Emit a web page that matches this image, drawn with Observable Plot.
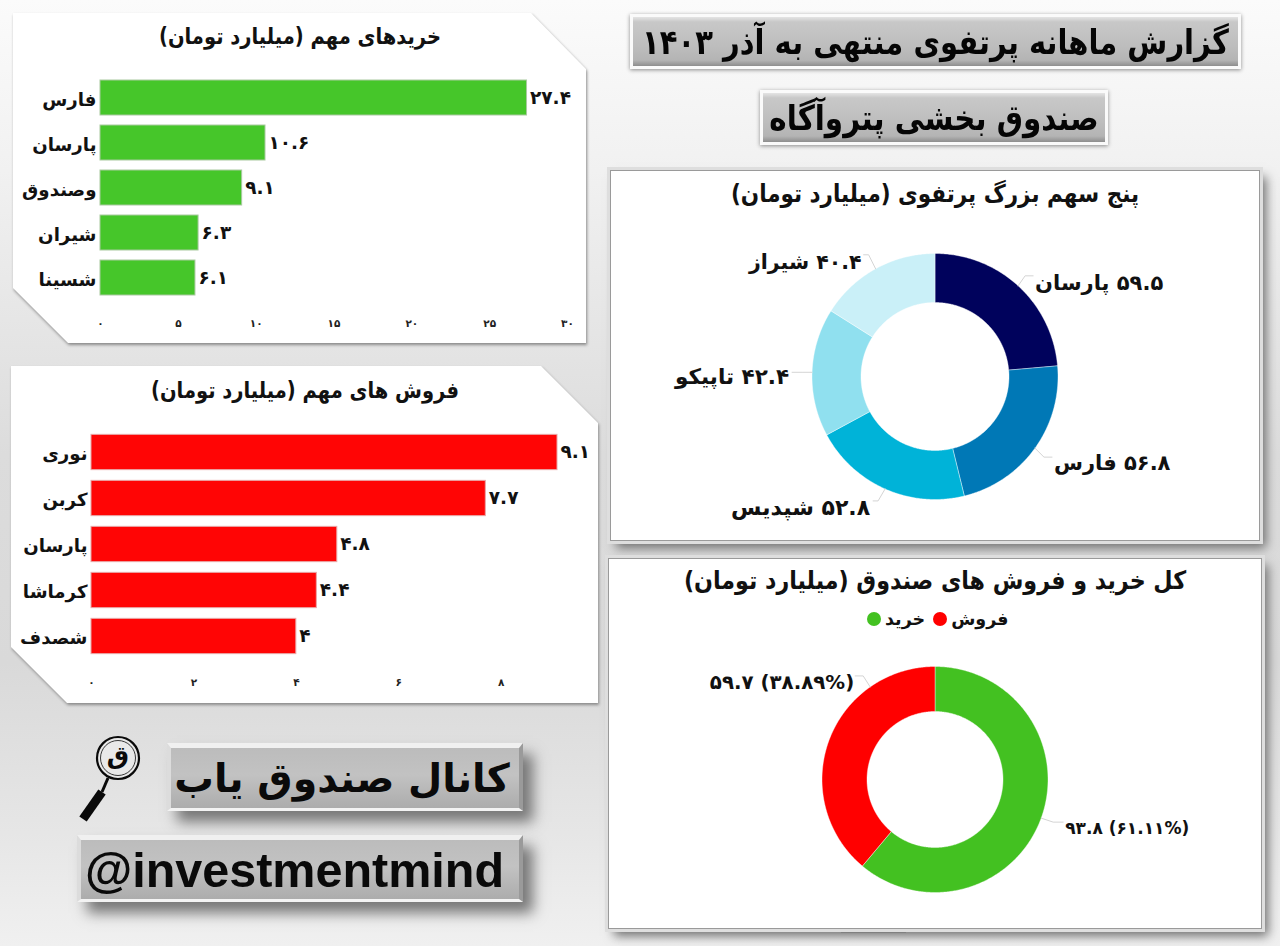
<!DOCTYPE html>
<html lang="fa">
<head>
<meta charset="utf-8">
<script src="https://cdn.jsdelivr.net/npm/d3@7"></script>
<script src="https://cdn.jsdelivr.net/npm/@observablehq/plot@0.6"></script>
<style>
html,body{margin:0;padding:0}
body{position:relative;width:1280px;height:946px;overflow:hidden;font-family:"DejaVu Sans",sans-serif;font-weight:700;color:#111;
 background:linear-gradient(180deg,#fbfbfb 0%,#f1f1f1 18%,#dcdcdc 48%,#d9d9d9 70%,#e6e6e6 88%,#f0f0f0 100%)}
.abs{position:absolute}
.title{position:absolute;white-space:nowrap;transform:translate(-50%,-50%) scaleY(1.14);direction:rtl}
.shape{position:absolute;filter:drop-shadow(1px 2px 1.5px #8a8a8a)}
.shape>div{position:absolute;inset:0;background:#fff}
.frame{position:absolute;background:#fff;border:1px solid #9a9a9a;box-sizing:border-box;box-shadow:0 0 0 3px #dedede,6px 7px 10px #6f6f6f}
.head{position:absolute;box-sizing:border-box;border:3px solid #fafafa;box-shadow:0 1px 4px #8a8a8a;
 background:linear-gradient(180deg,#e4e4e4 0%,#c8c8c8 10%,#bdbdbd 60%,#b4b4b4 88%,#8e8e8e 100%);
 display:flex;align-items:center;justify-content:center;white-space:nowrap;direction:rtl;color:#050505}
.head span{display:inline-block;transform:scaleY(1.18)}
.bevel{position:absolute;box-sizing:border-box;display:flex;align-items:center;justify-content:center;white-space:nowrap;
 background:linear-gradient(180deg,#bcbcbc 0%,#c2c2c2 45%,#acacac 100%);
 border-style:solid;border-width:5px 4px 3px 4px;border-color:#f0f0f0 #9a9a9a #f3f3f3 #dcdcdc;
 box-shadow:10px 11px 13px #777;color:#0a0a0a}
svg{font-family:"DejaVu Sans",sans-serif}
</style>
</head>
<body>
<script>
// ---------- Data ----------
const buyNames  = ["فارس","پارسان","وصندوق","شیران","شسینا"];
const buyValues = [27.4,10.6,9.1,6.3,6.1];
const buyTicks  = [0,5,10,15,20,25,30];

const sellNames  = ["نوری","کربن","پارسان","کرماشا","شصدف"];
const sellValues = [9.1,7.7,4.8,4.4,4];
const sellTicks  = [0,2,4,6,8];

const topNames  = ["پارسان","فارس","شپدیس","تاپیکو","شیراز"];
const topValues = [59.5,56.8,52.8,42.4,40.4];
const topColors = ["#00025c","#0078b6","#00b3d8","#90e0ef","#caf0f8"];

const flowNames  = ["خرید","فروش"];
const flowValues = [93.8,59.7];
const flowShares = [61.11,38.89];
const flowColors = ["#43c121","#ff0000"];

// ---------- Helpers ----------
const RLM = "\u200F";
const fa = v => String(v).replace(/\d/g, d => "۰۱۲۳۴۵۶۷۸۹"[d]);
const FONT = "DejaVu Sans";
const el = (cls, css, html, parent = document.body) => {
  const d = document.createElement("div");
  d.className = cls; d.style.cssText = css; if (html != null) d.innerHTML = html;
  parent.appendChild(d); return d;
};
const place = (node, left, top) => {
  node.style.position = "absolute"; node.style.left = left + "px"; node.style.top = top + "px";
  document.body.appendChild(node);
};

function cutPanel(l, t, r, b, tr, bl) {
  const w = r - l, h = b - t;
  const s = el("shape", `left:${l}px;top:${t}px;width:${w}px;height:${h}px`);
  el("", `clip-path:polygon(0 0,${w - tr[0]}px 0,100% ${tr[1]}px,100% 100%,${bl[0]}px 100%,0 ${h - bl[1]}px)`, "", s);
}

function barChart({left, top, width, height, names, values, ticks, color, edge, domain, margins, step}) {
  const rows = names.map((name, i) => ({name, value: values[i]}));
  const plot = Plot.plot({
    width, height, ...margins,
    style: {background: "transparent", overflow: "visible", fontFamily: FONT},
    x: {domain, axis: null},
    y: {domain: names, padding: 0, axis: null},
    marks: [
      Plot.barX(rows, {x: "value", y: "name", fill: color, stroke: edge, strokeWidth: 1,
        insetTop: step.inset, insetBottom: step.inset}),
      Plot.text(rows, {x: "value", y: "name", text: d => fa(d.value), textAnchor: "start", dx: 3,
        fontSize: 18.5, fontWeight: 700, fill: "#111", fontFamily: FONT}),
      Plot.axisY({tickSize: 0, tickPadding: 4, fontSize: 18.2, fontWeight: 700, label: null, dy: 2,
        fill: "#111", fontFamily: FONT, tickFormat: d => d}),
      Plot.axisX({ticks, tickSize: 0, tickPadding: step.tickPad, fontSize: 10.5, fontWeight: 700, label: null,
        fill: "#222", fontFamily: FONT, tickFormat: fa})
    ]
  });
  place(plot, left, top);
}

function donut({left, top, width, height, cx, cy, R, r, names, values, colors, labels, layout}) {
  const total = d3.sum(values);
  const pts = [], slices = [];
  let acc = 0;
  names.forEach((name, i) => {
    const a0 = acc / total * 2 * Math.PI;
    acc += values[i];
    const a1 = acc / total * 2 * Math.PI;
    const n = Math.ceil((a1 - a0) / 0.01);
    const ring = [];
    for (let k = 0; k <= n; k++) { const a = a0 + (a1 - a0) * k / n; ring.push([R * Math.sin(a), -R * Math.cos(a)]); }
    for (let k = n; k >= 0; k--) { const a = a0 + (a1 - a0) * k / n; ring.push([r * Math.sin(a), -r * Math.cos(a)]); }
    ring.push(ring[0]);
    ring.forEach(p => pts.push({name, x: p[0], y: p[1]}));
    slices.push({name, mid: (a0 + a1) / 2});
  });
  const marks = [
    Plot.line(pts, {x: "x", y: "y", z: "name", fill: "name", stroke: "#ffffff", strokeWidth: 0.4, curve: "linear"})
  ];
  slices.forEach((s, i) => {
    const L = layout[i];
    const a = L.angle != null ? L.angle * Math.PI / 180 : s.mid;
    const p0 = [R * Math.sin(a), -R * Math.cos(a)];
    const p1 = [p0[0] + L.elbow[0], p0[1] + L.elbow[1]];
    const p2 = [p1[0] + L.run, p1[1]];
    marks.push(Plot.line([p0, p1, p2], {x: d => d[0], y: d => d[1], stroke: "#d4d4d4", strokeWidth: 1}));
    marks.push(Plot.text([{x: p2[0], y: p2[1], t: labels[i]}], {x: "x", y: "y", text: "t",
      dx: L.text[0], dy: L.text[1], textAnchor: L.run > 0 ? "start" : "end",
      fontSize: L.size, fontWeight: 700, fill: "#111", fontFamily: FONT}));
  });
  const plot = Plot.plot({
    width, height, margin: 0,
    style: {background: "transparent", overflow: "visible", fontFamily: FONT},
    x: {domain: [left - cx, left + width - cx], axis: null},
    y: {domain: [top - cy, top + height - cy], range: [0, height], axis: null},
    color: {domain: names, range: colors},
    marks
  });
  place(plot, left, top);
}

// ---------- Headers ----------
el("head", "left:630px;top:14px;width:611px;height:55px;font-size:29px", "<span>گزارش ماهانه پرتفوی منتهی به آذر ۱۴۰۳</span>");
el("head", "left:760px;top:90px;width:348px;height:55px;font-size:29.4px", "<span>صندوق بخشی پتروآگاه</span>");

// ---------- Buy panel ----------
cutPanel(13, 13, 586, 343, [55, 56], [55, 55]);
el("title", "left:300px;top:37px;font-size:19.5px", "خریدهای مهم (میلیارد تومان)");
barChart({left: 13, top: 13, width: 573, height: 330, names: buyNames, values: buyValues, ticks: buyTicks,
  color: "#46c62a", edge: "#a9c9a0", domain: [0, 30],
  margins: {marginLeft: 87, marginRight: 19, marginTop: 62, marginBottom: 43},
  step: {inset: 5, tickPad: 19}});

// ---------- Sell panel ----------
cutPanel(11, 366, 598, 703, [57, 57], [56, 56]);
el("title", "left:305px;top:391px;font-size:19.5px", "فروش های مهم (میلیارد تومان)");
barChart({left: 11, top: 366, width: 587, height: 337, names: sellNames, values: sellValues, ticks: sellTicks,
  color: "#ff0505", edge: "#e8a8a8", domain: [0, 9.1],
  margins: {marginLeft: 80, marginRight: 41, marginTop: 62.6, marginBottom: 43.4},
  step: {inset: 5.35, tickPad: 18}});

// ---------- Top holdings donut ----------
el("frame", "left:610px;top:170px;width:650px;height:371px");
el("title", "left:935px;top:193px;font-size:21.5px", "پنج سهم بزرگ پرتفوی (میلیارد تومان)");
donut({left: 610, top: 170, width: 650, height: 371, cx: 934.5, cy: 376, R: 123, r: 74,
  names: topNames, values: topValues, colors: topColors,
  labels: topNames.map((n, i) => RLM + fa(topValues[i]) + " " + n + RLM),
  layout: [
    {elbow: [7, -10], run: 8, text: [2, 7], size: 21},
    {elbow: [9, 9], run: 8, text: [2, 6], size: 21},
    {elbow: [-7, 12], run: -5, text: [-3, 7], size: 22},
    {elbow: [-10, 0], run: -10, text: [-3, 5], size: 21.5},
    {elbow: [-7, -14], run: -5, text: [-2, 8], size: 20.5}
  ]});

// ---------- Buy / sell donut ----------
el("abs", "left:841px;top:927px;width:65px;height:6px;box-sizing:border-box;border:1px solid #b5b5b5;background:#f4f4f4");
el("frame", "left:608px;top:558px;width:654px;height:371px");
el("title", "left:935px;top:580px;font-size:22.2px", "کل خرید و فروش های صندوق (میلیارد تومان)");
const legend = el("abs", "left:867px;top:607px;height:24px;display:flex;align-items:center;font-size:17.5px;direction:ltr;white-space:nowrap");
flowNames.forEach((n, i) => {
  el("", `width:14px;height:14px;border-radius:50%;background:${flowColors[i]};margin:0 4px 0 ${i ? 8 : 0}px`, "", legend);
  el("", "", n, legend);
});
donut({left: 608, top: 558, width: 654, height: 371, cx: 934.5, cy: 779, R: 113, r: 68,
  names: flowNames, values: flowValues, colors: flowColors,
  labels: flowNames.map((n, i) => `${fa(flowValues[i])} (${fa(flowShares[i])}%)`),
  layout: [
    {elbow: [12, 4], run: 10, text: [2, 6], size: 17},
    {angle: 325, elbow: [-7, -11], run: -8, text: [-1, 7], size: 19.8}
  ]});

// ---------- Channel banners ----------
el("bevel", "left:167px;top:743px;width:356px;height:68px;font-size:39.5px;direction:rtl;padding-right:6px", "کانال صندوق یاب");
el("bevel", `left:77px;top:835px;width:446px;height:67px;font-size:48.5px;font-family:'Liberation Sans',sans-serif;padding-right:11px`, "@investmentmind");
el("abs", "left:78px;top:735px;width:66px;height:90px", `
<svg width="66" height="90" viewBox="0 0 66 90">
  <circle cx="40" cy="23" r="21" fill="#e9e9e9" stroke="#0a0a0a" stroke-width="2.2"/>
  <circle cx="40" cy="23" r="17.5" fill="none" stroke="#0a0a0a" stroke-width="0.8"/>
  <line x1="30" y1="43" x2="24" y2="57" stroke="#0a0a0a" stroke-width="3"/>
  <line x1="24" y1="57" x2="5" y2="84" stroke="#0a0a0a" stroke-width="9"/>
  <text x="40" y="29" text-anchor="middle" font-size="25" font-weight="700" fill="#0a0a0a">ق</text>
</svg>`);
</script>
</body>
</html>
